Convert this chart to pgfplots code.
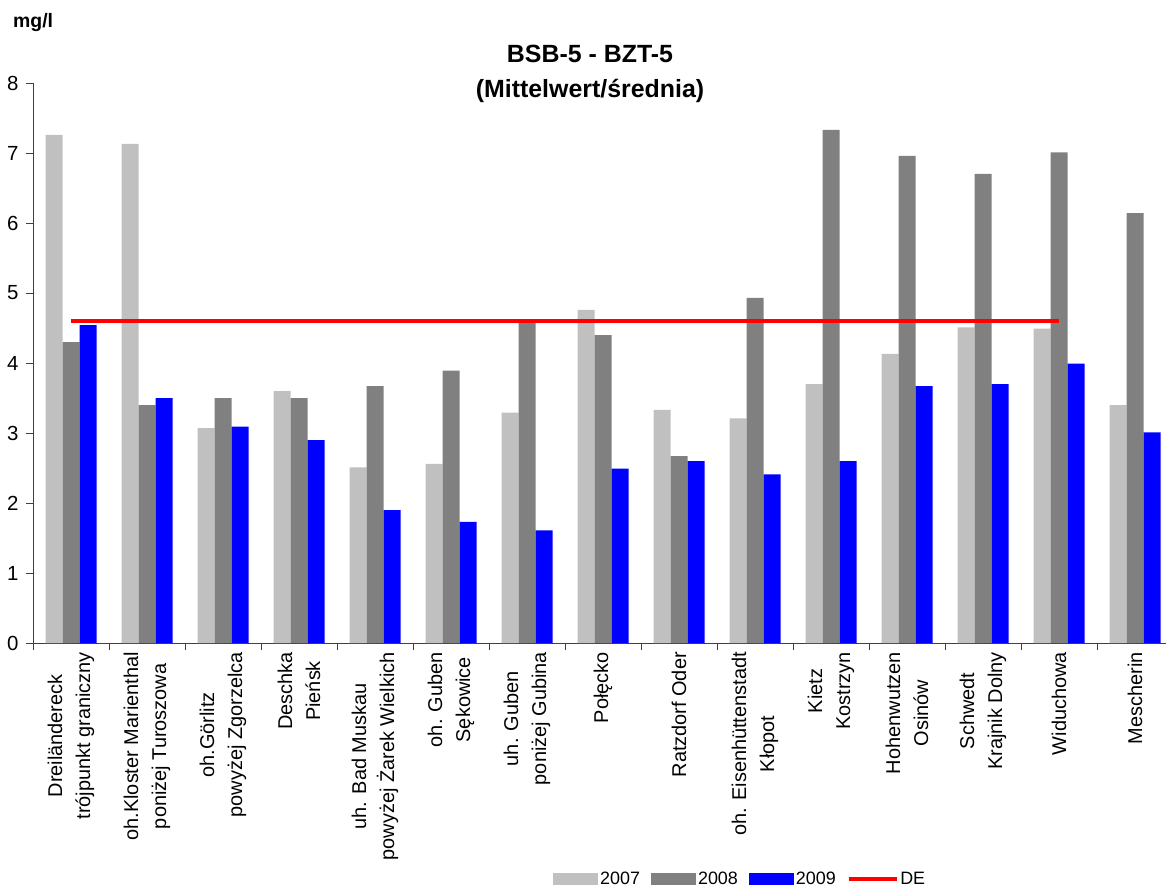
\documentclass[border=0pt]{standalone}
\usepackage{pgfplots}
\pgfplotsset{compat=1.18}
\usepackage{fontspec}
\setmainfont{Liberation Sans}
\definecolor{c2007}{RGB}{192,192,192}
\definecolor{c2008}{RGB}{128,128,128}
\definecolor{c2009}{RGB}{0,0,255}
\definecolor{cde}{RGB}{255,0,0}
\pgfplotstableread{
x y2007 y2008 y2009
0 7.26 4.30 4.54
1 7.13 3.40 3.50
2 3.07 3.50 3.09
3 3.60 3.50 2.90
4 2.51 3.67 1.90
5 2.56 3.89 1.73
6 3.29 4.61 1.61
7 4.76 4.40 2.49
8 3.33 2.67 2.60
9 3.21 4.93 2.41
10 3.70 7.33 2.60
11 4.13 6.96 3.67
12 4.51 6.70 3.70
13 4.49 7.01 3.99
14 3.40 6.14 3.01
}\datatable
\begin{document}
\begin{tikzpicture}
\path[use as bounding box] (-33bp,-243bp) rectangle (1133bp,643bp);
\begin{axis}[
  at={(0bp,0bp)}, anchor=south west,
  scale only axis,
  width=1140bp, height=560bp,
  xmin=-0.5, xmax=14.5,
  ymin=0, ymax=8,
  axis x line=bottom, axis y line=left,
  axis line style={black!75, line width=0.8bp, -},
  tick align=outside,
  major tick length=7bp,
  tick style={black!75, line width=0.8bp},
  ytick={0,1,...,8},
  /pgf/number format/assume math mode=true,
  yticklabel style={font=\fontsize{20.5}{24}\selectfont, xshift=-4bp},
  xtick={-0.5,0.5,...,14.5},
  x tick label as interval,
  xticklabels={{Dreiländereck\\trójpunkt graniczny},{oh.Kloster Marienthal\\poniżej Turoszowa},{oh.Görlitz\\powyżej Zgorzelca},{Deschka\\Pieńsk},{uh. Bad Muskau\\powyżej Żarek Wielkich},{oh. Guben\\Sękowice},{uh. Guben\\poniżej Gubina},{Połęcko},{Ratzdorf Oder},{oh. Eisenhüttenstadt\\Kłopot},{Kietz\\Kostrzyn},{Hohenwutzen\\Osinów},{Schwedt\\Krajnik Dolny},{Widuchowa},{Mescherin}},
  xticklabel style={rotate=90, anchor=east, align=center, font=\fontsize{20}{28}\selectfont, inner sep=2bp},
  legend style={draw=none, fill=none, at={(0.4561,-0.4214)}, anchor=west, legend columns=4,
    font=\fontsize{18}{20}\selectfont, inner sep=0pt,
    /tikz/every even column/.append style={column sep=9bp}},
  legend cell align=left,
]
\addplot[ybar, bar width=17bp, bar shift=-17bp, fill=c2007, draw=none,
  legend image code/.code={\fill[c2007] (0bp,-6bp) rectangle (45bp,6bp);}]
  table[x=x, y=y2007] {\datatable};
\addlegendentry{2007}
\addplot[ybar, bar width=17bp, bar shift=0bp, fill=c2008, draw=none,
  legend image code/.code={\fill[c2008] (0bp,-6bp) rectangle (45bp,6bp);}]
  table[x=x, y=y2008] {\datatable};
\addlegendentry{2008}
\addplot[ybar, bar width=17bp, bar shift=17bp, fill=c2009, draw=none,
  legend image code/.code={\fill[c2009] (0bp,-6bp) rectangle (45bp,6bp);}]
  table[x=x, y=y2009] {\datatable};
\addlegendentry{2009}
\addplot[sharp plot, cde, line width=3.5bp, mark=none,
  legend image code/.code={\draw[cde, line width=3.5bp] (0bp,0bp) -- (48bp,0bp);}]
  coordinates {(0,4.6) (1,4.6) (2,4.6) (3,4.6) (4,4.6) (5,4.6) (6,4.6) (7,4.6) (8,4.6) (9,4.6) (10,4.6) (11,4.6) (12,4.6) (13,4.6)};
\addlegendentry{DE}
\end{axis}
\node[anchor=base, font=\fontsize{25}{30}\selectfont\bfseries] at (557bp,580bp) {BSB-5 - BZT-5};
\node[anchor=base, font=\fontsize{25}{30}\selectfont\bfseries] at (557bp,545bp) {(Mittelwert/średnia)};
\node[anchor=base west, inner sep=0pt, font=\fontsize{19.5}{22}\selectfont\bfseries] at (-20bp,615bp) {mg/l};
\end{tikzpicture}
\end{document}
